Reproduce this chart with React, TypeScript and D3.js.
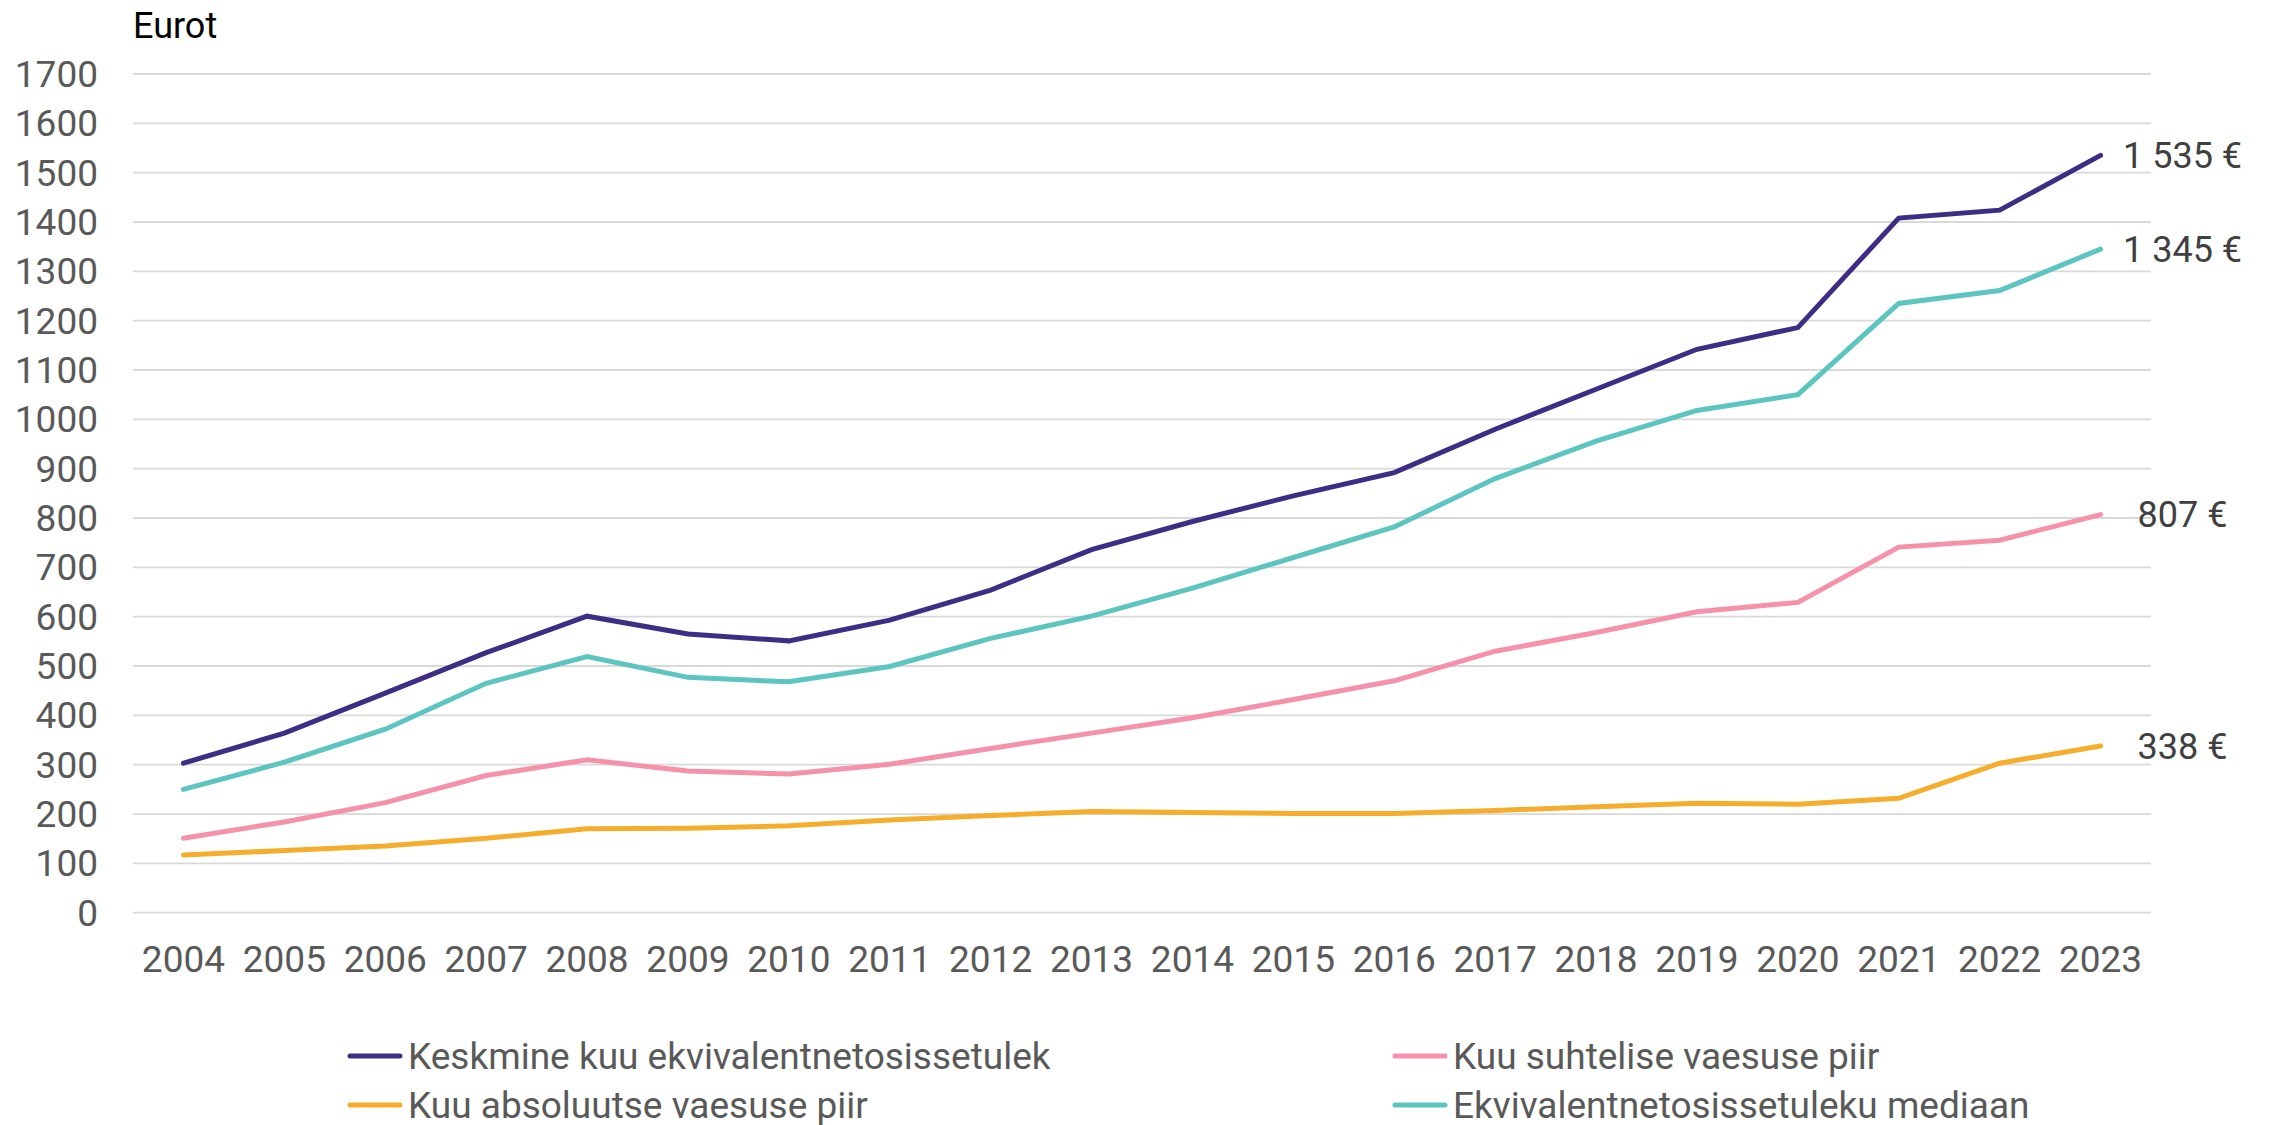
import React from "react";
import * as d3 from "d3";

const years = [2004, 2005, 2006, 2007, 2008, 2009, 2010, 2011, 2012, 2013, 2014, 2015, 2016, 2017, 2018, 2019, 2020, 2021, 2022, 2023];
const meanIncome = [303, 364, 445, 527, 601, 565, 551, 593, 654, 736, 793, 845, 892, 980, 1061, 1142, 1186, 1408, 1424, 1535];
const medianIncome = [250, 305, 372, 465, 519, 477, 468, 499, 556, 601, 658, 720, 782, 880, 956, 1018, 1050, 1235, 1261, 1345];
const relativePoverty = [151, 184, 223, 278, 310, 287, 281, 301, 333, 364, 395, 432, 470, 530, 568, 610, 629, 741, 755, 807];
const absolutePoverty = [117, 126, 135, 151, 170, 171, 176, 188, 197, 205, 203, 201, 201, 207, 215, 222, 220, 232, 303, 338];
const yTicks = [0, 100, 200, 300, 400, 500, 600, 700, 800, 900, 1000, 1100, 1200, 1300, 1400, 1500, 1600, 1700];
const endLabels = ["1 535 €", "1 345 €", "807 €", "338 €"];

const seriesNames = [
  "Keskmine kuu ekvivalentnetosissetulek",
  "Ekvivalentnetosissetuleku mediaan",
  "Kuu suhtelise vaesuse piir",
  "Kuu absoluutse vaesuse piir",
];
const seriesValues = [meanIncome, medianIncome, relativePoverty, absolutePoverty];
const seriesColors = ["#3E2C85", "#5CC5BF", "#F592AA", "#F5AD2B"];

const W = 2276;
const H = 1125;
const FONT = "Roboto, 'Noto Sans', sans-serif";

export default function App() {
  const x = d3.scalePoint<number>().domain(years).range([133, 2151]).padding(0.5);
  const y = d3.scaleLinear().domain([0, 1700]).range([912.7, 74]);
  const line = d3
    .line<number>()
    .x((_, i) => x(years[i]) as number)
    .y((d) => y(d));

  // legend layout: [seriesIndex, column, row]
  const legendItems: [number, number, number][] = [
    [0, 0, 0],
    [2, 1, 0],
    [3, 0, 1],
    [1, 1, 1],
  ];
  const legendCols = [348, 1393];
  const legendRows = [1056, 1105];

  return (
    <svg
      width={W}
      height={H}
      style={{ position: "absolute", left: 0, top: 0, background: "#fff" }}
      fontFamily={FONT}
    >
      <rect x={0} y={0} width={W} height={H} fill="#fff" />
      <text x={133} y={38} fontSize={36} fill="#000">Eurot</text>
      {yTicks.map((t) => (
        <g key={t}>
          <line x1={133} x2={2151} y1={y(t)} y2={y(t)} stroke="#D9D9D9" strokeWidth={1.8} />
          <text x={98} y={y(t)} dy="0.35em" textAnchor="end" fontSize={37} fill="#595959">
            {t}
          </text>
        </g>
      ))}
      {years.map((yr) => (
        <text key={yr} x={x(yr)} y={972} textAnchor="middle" fontSize={37} fill="#595959">
          {yr}
        </text>
      ))}
      {[3, 2, 1, 0].map((s) => (
        <path
          key={s}
          d={line(seriesValues[s]) || ""}
          fill="none"
          stroke={seriesColors[s]}
          strokeWidth={5}
          strokeLinecap="round"
          strokeLinejoin="miter"
        />
      ))}
      {seriesValues.map((vals, s) => (
        <text
          key={s}
          x={(x(years[years.length - 1]) as number) + 82}
          y={y(vals[vals.length - 1])}
          dy="0.35em"
          textAnchor="middle"
          fontSize={36}
          fill="#404040"
        >
          {endLabels[s]}
        </text>
      ))}
      {legendItems.map(([s, c, r]) => (
        <g key={s}>
          <line
            x1={legendCols[c] + 2}
            x2={legendCols[c] + 52}
            y1={legendRows[r]}
            y2={legendRows[r]}
            stroke={seriesColors[s]}
            strokeWidth={5}
            strokeLinecap="round"
          />
          <text x={legendCols[c] + 60} y={legendRows[r]} dy="0.35em" fontSize={37} fill="#595959">
            {seriesNames[s]}
          </text>
        </g>
      ))}
    </svg>
  );
}
